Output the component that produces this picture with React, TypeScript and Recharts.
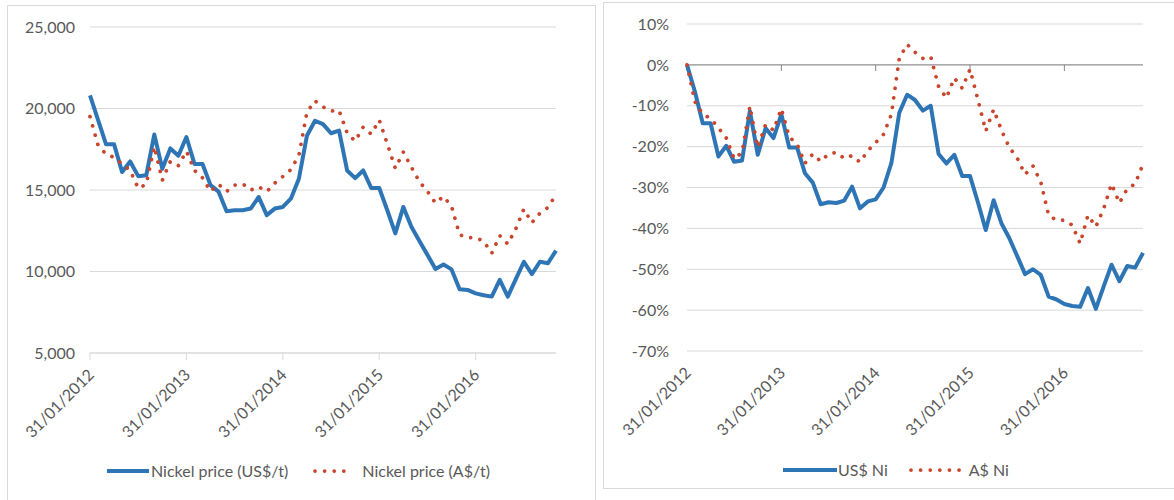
import React from 'react'
import { LineChart, Line, XAxis, YAxis, CartesianGrid, Legend, ReferenceLine } from 'recharts'

// month-end observations, Jan 2012 to Nov 2016
const months = [
  '31/01/2012', '29/02/2012', '31/03/2012', '30/04/2012', '31/05/2012', '30/06/2012',
  '31/07/2012', '31/08/2012', '30/09/2012', '31/10/2012', '30/11/2012', '31/12/2012',
  '31/01/2013', '28/02/2013', '31/03/2013', '30/04/2013', '31/05/2013', '30/06/2013',
  '31/07/2013', '31/08/2013', '30/09/2013', '31/10/2013', '30/11/2013', '31/12/2013',
  '31/01/2014', '28/02/2014', '31/03/2014', '30/04/2014', '31/05/2014', '30/06/2014',
  '31/07/2014', '31/08/2014', '30/09/2014', '31/10/2014', '30/11/2014', '31/12/2014',
  '31/01/2015', '28/02/2015', '31/03/2015', '30/04/2015', '31/05/2015', '30/06/2015',
  '31/07/2015', '31/08/2015', '30/09/2015', '31/10/2015', '30/11/2015', '31/12/2015',
  '31/01/2016', '29/02/2016', '31/03/2016', '30/04/2016', '31/05/2016', '30/06/2016',
  '31/07/2016', '31/08/2016', '30/09/2016', '31/10/2016', '30/11/2016',
]

// nickel price, US$/t
const usdPrice = [
  20800, 19300, 17800, 17800, 16100, 16750, 15850, 15900, 18400, 16300, 17550, 17100,
  18250, 16600, 16600, 15300, 14900, 13700, 13760, 13760, 13860, 14570, 13460, 13860,
  13960, 14470, 15690, 18330, 19250, 19040, 18480, 18640, 16200, 15730, 16200, 15120,
  15120, 13760, 12340, 13960, 12740, 11870, 11020, 10150, 10430, 10130, 8910, 8870,
  8660, 8540, 8460, 9490, 8460, 9530, 10600, 9840, 10600, 10510, 11280,
]

// nickel price, A$/t
const audPrice = [
  19500, 17750, 17200, 17000, 16600, 16200, 15100, 15350, 17650, 15600, 16750, 16500,
  17380, 16200, 15750, 14920, 15350, 14910, 15300, 15380, 15000, 15200, 14900, 15420,
  15830, 16250, 17130, 19770, 20470, 20100, 19840, 19880, 18500, 18000, 18860, 18430,
  19290, 17840, 16330, 17330, 16400, 15510, 14920, 14200, 14610, 13990, 12260, 12070,
  12080, 11850, 11120, 12200, 11690, 12620, 13830, 12990, 13580, 13930, 14720,
]

// change since Jan 2012, %
const usdChange = [
  0, -6.5, -14.3, -14.3, -22.4, -19.8, -23.7, -23.4, -11.3, -22.0, -15.5, -17.9,
  -12.1, -20.2, -20.2, -26.5, -28.8, -34.1, -33.6, -33.8, -33.2, -29.8, -35.1, -33.4,
  -32.9, -30.0, -24.0, -11.7, -7.3, -8.6, -11.2, -10.0, -21.8, -24.1, -22.0, -27.2,
  -27.2, -33.6, -40.4, -33.1, -38.8, -42.4, -46.8, -51.2, -50.0, -51.4, -56.7, -57.4,
  -58.5, -59.0, -59.2, -54.6, -59.7, -54.2, -48.9, -52.9, -49.2, -49.6, -46.0,
]

const audChange = [
  0, -9.0, -12.1, -13.1, -15.4, -17.9, -23.0, -21.4, -10.1, -20.2, -14.6, -16.0,
  -10.7, -17.6, -19.4, -24.1, -21.8, -23.6, -21.8, -21.4, -22.9, -22.2, -23.8, -21.0,
  -19.0, -17.0, -12.1, 1.6, 5.0, 3.1, 1.6, 2.0, -5.3, -8.1, -3.2, -5.7,
  -1.1, -8.5, -16.2, -10.9, -16.0, -20.2, -22.8, -26.8, -24.7, -28.7, -36.8, -38.0,
  -38.0, -39.2, -43.7, -36.8, -39.6, -35.2, -29.1, -33.8, -30.3, -29.1, -24.3,
]

const priceTicks = [5000, 10000, 15000, 20000, 25000]
const changeTicks = [-70, -60, -50, -40, -30, -20, -10, 0, 10]
const yearTicks = ['31/01/2012', '31/01/2013', '31/01/2014', '31/01/2015', '31/01/2016']

const BLUE = '#2E75B6'
const RED = '#C9452C'
const TEXT = '#595959'
const GRID = '#D9D9D9'
const FONT = 'Lato, "Open Sans", sans-serif'
const DOTS = '0.01 9.6'

const priceData = months.map((date, i) => ({ date, usd: usdPrice[i], aud: audPrice[i] }))
const changeData = months.map((date, i) => ({ date, usd: usdChange[i], aud: audChange[i] }))

const tickStyle = { fill: TEXT, fontSize: 16, fontFamily: FONT }

function DateTick(props: any) {
  const { x, y, payload } = props
  return (
    <g transform={`translate(${x + 5},${y + 14})`}>
      <text textAnchor="end" transform="rotate(-45)" {...tickStyle}>
        {payload.value}
      </text>
    </g>
  )
}

type LegendItem = { key: string; sample: number; textGap: number; itemGap: number }

function makeLegend(items: LegendItem[]) {
  return function LegendContent(props: any) {
    const payload = props.payload || []
    return (
      <div style={{ display: 'flex', alignItems: 'center', height: 20, fontFamily: FONT, fontSize: 16, color: TEXT }}>
        {items.map((it) => {
          const entry = payload.find((p: any) => p.dataKey === it.key)
          if (!entry) return null
          const dotted = it.key === 'aud'
          return (
            <div key={it.key} style={{ display: 'flex', alignItems: 'center', marginRight: it.itemGap, whiteSpace: 'nowrap' }}>
              <svg width={it.sample} height={8}>
                {dotted ? (
                  <line x1={2} x2={it.sample} y1={4} y2={4} stroke={entry.color} strokeWidth={3.75}
                    strokeDasharray={DOTS} strokeLinecap="round" />
                ) : (
                  <line x1={0} x2={it.sample} y1={4} y2={4} stroke={entry.color} strokeWidth={4} />
                )}
              </svg>
              <span style={{ marginLeft: it.textGap, lineHeight: '20px' }}>{entry.value}</span>
            </div>
          )
        })}
      </div>
    )
  }
}

const PriceLegend = makeLegend([
  { key: 'usd', sample: 42, textGap: 2, itemGap: 25 },
  { key: 'aud', sample: 36, textGap: 13, itemGap: 0 },
])

const ChangeLegend = makeLegend([
  { key: 'usd', sample: 54, textGap: 1, itemGap: 21 },
  { key: 'aud', sample: 56, textGap: 4, itemGap: 0 },
])

function PriceChart() {
  return (
    <LineChart width={598} height={500} data={priceData} margin={{ top: 27, right: 42, left: 0, bottom: 47 }}>
      <CartesianGrid vertical={false} stroke={GRID} />
      <XAxis dataKey="date" interval={11} height={100} tick={<DateTick />} tickSize={7} tickMargin={2}
        axisLine={{ stroke: GRID }} tickLine={{ stroke: GRID }} />
      <YAxis domain={[5000, 25000]} ticks={priceTicks} width={90} axisLine={false} tickLine={false}
        tickSize={0} tickMargin={15} tick={tickStyle} tickFormatter={(v: number) => v.toLocaleString('en-US')} />
      <Legend layout="horizontal" verticalAlign="middle" align="center" content={<PriceLegend />}
        wrapperStyle={{ top: 461, left: 107, width: 480, height: 20 }} />
      <Line type="linear" dataKey="usd" name="Nickel price (US$/t)" stroke={BLUE} strokeWidth={4}
        strokeLinejoin="round" dot={false} activeDot={false} isAnimationActive={false} />
      <Line type="linear" dataKey="aud" name="Nickel price (A$/t)" stroke={RED} strokeWidth={3.75}
        strokeDasharray={DOTS} strokeLinecap="round" dot={false} activeDot={false} isAnimationActive={false} />
    </LineChart>
  )
}

function ChangeChart() {
  return (
    <LineChart width={574} height={500} data={changeData} margin={{ top: 24, right: 31, left: 0, bottom: 49 }}>
      <CartesianGrid vertical={false} stroke={GRID} />
      <XAxis dataKey="date" interval={11} height={100} tick={<DateTick />} tickSize={7} tickMargin={2}
        axisLine={false} tickLine={false} />
      <YAxis domain={[-70, 10]} ticks={changeTicks} width={87} axisLine={false} tickLine={false}
        tickSize={0} tickMargin={18} tick={tickStyle} tickFormatter={(v: number) => `${v}%`} />
      <ReferenceLine y={0} stroke="#868686" strokeWidth={1} />
      {yearTicks.map((t) => (
        <ReferenceLine key={t} segment={[{ x: t, y: 0 }, { x: t, y: -1.5 }]} stroke="#868686" strokeWidth={1} />
      ))}
      <Legend layout="horizontal" verticalAlign="middle" align="center" content={<ChangeLegend />}
        wrapperStyle={{ top: 460, left: 183, width: 380, height: 20 }} />
      <Line type="linear" dataKey="usd" name="US$ Ni" stroke={BLUE} strokeWidth={4}
        strokeLinejoin="round" dot={false} activeDot={false} isAnimationActive={false} />
      <Line type="linear" dataKey="aud" name="A$ Ni" stroke={RED} strokeWidth={3.75}
        strokeDasharray={DOTS} strokeLinecap="round" dot={false} activeDot={false} isAnimationActive={false} />
    </LineChart>
  )
}

export default function App() {
  return (
    <div style={{ position: 'fixed', left: 0, top: 0, width: 1174, height: 500, background: '#fff', overflow: 'hidden' }}>
      <div style={{ position: 'absolute', left: 7, top: 5, width: 589, height: 520, border: `1px solid ${GRID}`, boxSizing: 'border-box' }} />
      <div style={{ position: 'absolute', left: 603, top: 2, width: 620, height: 487, border: `1px solid ${GRID}`, boxSizing: 'border-box' }} />
      <div style={{ position: 'absolute', left: 0, top: 0 }}>
        <PriceChart />
      </div>
      <div style={{ position: 'absolute', left: 600, top: 0 }}>
        <ChangeChart />
      </div>
    </div>
  )
}
